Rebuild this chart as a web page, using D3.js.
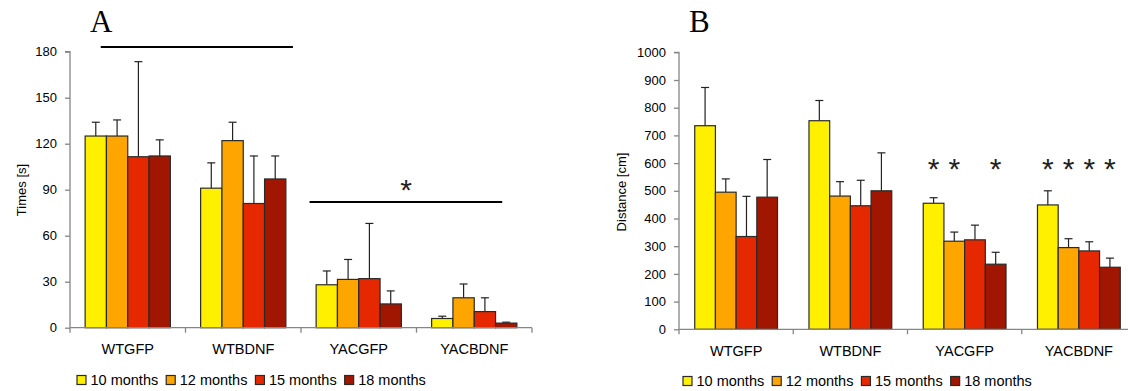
<!DOCTYPE html>
<html><head><meta charset="utf-8">
<script src="https://cdn.jsdelivr.net/npm/d3@7"></script>
<style>body{margin:0;background:#fff}svg{display:block}text{font-family:"Liberation Sans",Arial,sans-serif;fill:#000}</style>
</head><body><svg id="c" width="1128" height="391"></svg>
<script>
const categories = ["WTGFP","WTBDNF","YACGFP","YACBDNF"];
const seriesNames = ["10 months","12 months","15 months","18 months"];
const colors = ["#FFF000","#FFA500","#E62800","#A01600"];

// Panel A: Times [s]  (rows = categories, cols = series)
const timesMean = [[125,125,111.5,112],[91,122,81,97],[28,31.5,32,15.5],[6,19.5,10.5,3]];
const timesErrTop = [[134,135.5,173.5,122.5],[107.5,134,112,112],[37,44.5,68,24],[7.5,28.5,19.5,3.6]];
const timesTicks = [0,30,60,90,120,150,180];

// Panel B: Distance [cm]
const distMean = [[735,495,335,477],[753,481,446,500],[455,318,323,235],[449,295,283,224]];
const distErrTop = [[873,543,480,613],[826,533,538,637],[475,351,376,278],[500,327,316,257]];
const distTicks = [0,100,200,300,400,500,600,700,800,900,1000];

// Significance annotations
const sigLinesA = [{from:"WTGFP",fa:0.266,to:"WTBDNF",fb:0.93,value:183},{from:"YACGFP",fa:0.074,to:"YACBDNF",fb:0.742,value:82}];
const starsA = [{cat:"YACGFP",frac:0.91,value:94.4}];
const starsB = [{cat:"YACGFP",s:0},{cat:"YACGFP",s:1},{cat:"YACGFP",s:3},{cat:"YACBDNF",s:0},{cat:"YACBDNF",s:1},{cat:"YACBDNF",s:2},{cat:"YACBDNF",s:3}];
const starBValue = 603;

const svg = d3.select("#c");
const axisColor = "#868686";
const starSize = 30, starShift = 17;

function panel(cfg){
  const g = svg.append("g");
  const x0 = d3.scaleBand().domain(categories).range([cfg.left,cfg.right]).padding(0);
  const x1 = d3.scaleBand().domain(seriesNames).range([0,x0.bandwidth()]).paddingInner(0).paddingOuter(cfg.pOuter);
  const y = d3.scaleLinear().domain([0,cfg.max]).range([cfg.y0,cfg.yTop]);

  categories.forEach((c,ci)=>{
    seriesNames.forEach((s,si)=>{
      const xb = x0(c)+x1(s), w = x1.bandwidth();
      const v = cfg.mean[ci][si], e = cfg.err[ci][si];
      const xc = xb+w/2;
      g.append("line").attr("x1",xc).attr("x2",xc).attr("y1",y(v)).attr("y2",y(e)).attr("stroke","#222").attr("stroke-width",1.2);
      g.append("line").attr("x1",xc-4).attr("x2",xc+4).attr("y1",y(e)).attr("y2",y(e)).attr("stroke","#222").attr("stroke-width",1.2);
      g.append("rect").attr("x",xb).attr("y",y(v)).attr("width",w).attr("height",y(0)-y(v))
        .attr("fill",colors[si]).attr("stroke","#2a2a2a").attr("stroke-width",1.2);
    });
  });

  const ya = d3.axisLeft(y).tickValues(cfg.ticks).tickSize(5).tickPadding(8).tickFormat(d3.format("d"));
  const yg = g.append("g").attr("transform",`translate(${cfg.left},0)`).call(ya);
  yg.select(".domain").attr("stroke",axisColor).attr("stroke-width",1.3).attr("d",`M-5,${y(cfg.max)}H0V${y(0)}`);
  yg.selectAll(".tick line").attr("stroke",axisColor).attr("stroke-width",1.3);
  yg.selectAll(".tick text").style("font-size","13px").style("fill","#000").style("font-family","Liberation Sans, Arial, sans-serif");

  const xa = d3.axisBottom(x0).tickSize(0).tickPadding(14);
  const xg = g.append("g").attr("transform",`translate(0,${y(0)})`).call(xa);
  xg.select(".domain").attr("stroke",axisColor).attr("stroke-width",1.3).attr("d",`M${cfg.left},0H${cfg.right}`);
  xg.selectAll(".tick text").style("font-size","14.5px").style("fill","#000").style("font-family","Liberation Sans, Arial, sans-serif").attr("dy","0.85em");
  const bounds = categories.map(c=>x0(c)).concat([cfg.right]);
  bounds.forEach(b=>{
    xg.append("line").attr("x1",b).attr("x2",b).attr("y1",0).attr("y2",5).attr("stroke",axisColor).attr("stroke-width",1.3);
  });

  g.append("text").attr("transform",`translate(${cfg.ylabX},${cfg.ylabY}) rotate(-90)`).attr("text-anchor","middle")
    .attr("dy","0.35em").style("font-size","13px").text(cfg.ylabel);

  g.append("text").attr("x",cfg.letterX).attr("y",32).style("font-family","Liberation Serif, Times New Roman, serif").style("font-size","31px").text(cfg.letter);

  const lg = g.append("g");
  let lx = cfg.legX;
  seriesNames.forEach((s,si)=>{
    lg.append("rect").attr("x",lx).attr("y",cfg.legY-9.5).attr("width",9).attr("height",9).attr("fill",colors[si]).attr("stroke","#2a2a2a").attr("stroke-width",1.2);
    const t = lg.append("text").attr("x",lx+13.5).attr("y",cfg.legY).style("font-size","14.5px").text(s);
    lx += 13.5 + t.node().getComputedTextLength() + 8;
  });
  return {g,x0,x1,y};
}

const A = panel({left:70,right:532,pOuter:0.71,y0:327.7,yTop:51.7,max:180,mean:timesMean,err:timesErrTop,ticks:timesTicks,
  ylabel:"Times [s]",ylabX:21,ylabY:190,letter:"A",letterX:90,legX:77,legY:385});
sigLinesA.forEach(l=>{
  const bw = A.x0.bandwidth();
  A.g.append("line").attr("x1",A.x0(l.from)+l.fa*bw).attr("x2",A.x0(l.to)+l.fb*bw).attr("y1",A.y(l.value)).attr("y2",A.y(l.value)).attr("stroke","#000").attr("stroke-width",2);
});
starsA.forEach(s=>{
  A.g.append("text").attr("x",A.x0(s.cat)+s.frac*A.x0.bandwidth()).attr("y",A.y(s.value)+starShift).attr("text-anchor","middle").style("font-size",starSize+"px").style("fill","#222").text("*");
});

const B = panel({left:679,right:1136,pOuter:0.76,y0:329.3,yTop:52.3,max:1000,mean:distMean,err:distErrTop,ticks:distTicks,
  ylabel:"Distance [cm]",ylabX:621,ylabY:192,letter:"B",letterX:689,legX:683,legY:386});
starsB.forEach(s=>{
  const xc = B.x0(s.cat)+B.x1(seriesNames[s.s])+B.x1.bandwidth()/2;
  B.g.append("text").attr("x",xc).attr("y",B.y(starBValue)+starShift).attr("text-anchor","middle").style("font-size",starSize+"px").style("fill","#222").text("*");
});
</script></body></html>
